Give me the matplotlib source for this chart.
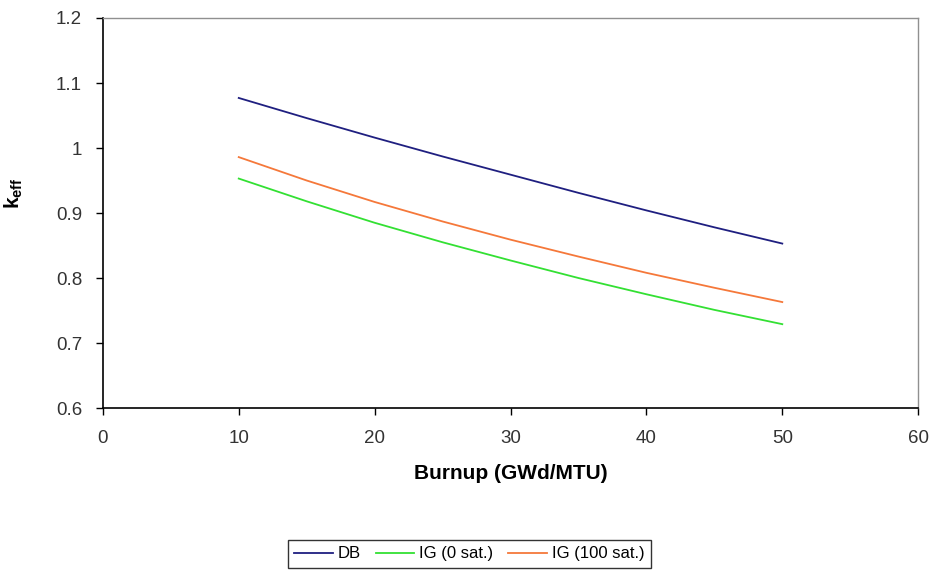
import matplotlib
matplotlib.use("Agg")
import matplotlib.pyplot as plt

plt.rcParams['font.family'] = ['Liberation Sans', 'DejaVu Sans']
plt.rcParams['mathtext.fontset'] = 'custom'
plt.rcParams['mathtext.bf'] = 'Liberation Sans:bold'
plt.rcParams['mathtext.rm'] = 'Liberation Sans'

# burnup points (GWd/MTU) and k_eff
burnup = [10, 15, 20, 25, 30, 35, 40, 45, 50]
keff_db = [1.077, 1.046, 1.016, 0.987, 0.959, 0.931, 0.904, 0.878, 0.853]
keff_ig0 = [0.953, 0.918, 0.885, 0.855, 0.827, 0.800, 0.775, 0.751, 0.729]
keff_ig100 = [0.986, 0.950, 0.917, 0.887, 0.859, 0.833, 0.808, 0.785, 0.763]

x_ticks = [0, 10, 20, 30, 40, 50, 60]
y_ticks = [0.6, 0.7, 0.8, 0.9, 1.0, 1.1, 1.2]
y_tick_labels = ['0.6', '0.7', '0.8', '0.9', '1', '1.1', '1.2']

fig = plt.figure(figsize=(9.35, 5.75), dpi=100)
ax = fig.add_axes([0.110, 0.2904, 0.872, 0.6783])

ax.plot(burnup, keff_db, color='#1f1f80', lw=1.3, label='DB')
ax.plot(burnup, keff_ig0, color='#33e033', lw=1.3, label='IG (0 sat.)')
ax.plot(burnup, keff_ig100, color='#f5783a', lw=1.3, label='IG (100 sat.)')

ax.set_xlim(0, 60)
ax.set_ylim(0.6, 1.2)
ax.set_xticks(x_ticks)
ax.set_yticks(y_ticks)
ax.set_yticklabels(y_tick_labels)
ax.tick_params(axis='both', direction='out', length=5, width=1, labelsize=13.5,
               labelcolor='#333333')
ax.tick_params(axis='x', pad=11)
ax.tick_params(axis='y', pad=10)

for side in ['top', 'right']:
    ax.spines[side].set_color('#909090')
    ax.spines[side].set_linewidth(1)
for side in ['left', 'bottom']:
    ax.spines[side].set_color('black')
    ax.spines[side].set_linewidth(1.2)

ax.set_xlabel('Burnup (GWd/MTU)', fontsize=15, fontweight='bold', labelpad=12)
ax.set_ylabel(r'$\mathbf{k_{eff}}$', fontsize=15, labelpad=20)
ax.yaxis.set_label_coords(-0.095, 0.55)

leg = fig.legend(loc='lower center', bbox_to_anchor=(0.502, 0.012), ncol=3,
                 fontsize=12, frameon=True, fancybox=False, handlelength=2.3,
                 columnspacing=0.9, handletextpad=0.3, borderpad=0.4,
                 borderaxespad=0)
leg.get_frame().set_edgecolor('black')
leg.get_frame().set_linewidth(1)

fig.savefig('out.png', dpi=100)
